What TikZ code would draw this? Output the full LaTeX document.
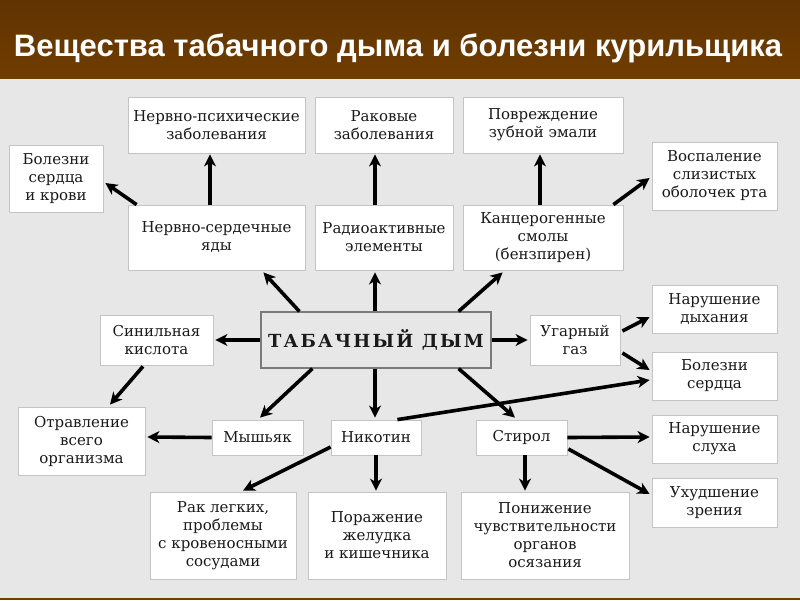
\documentclass[tikz,border=0pt]{standalone}
\usepackage{fontspec}
\setmainfont{DejaVu Serif}
\newfontfamily\titlefont{Liberation Sans}
\newfontfamily\smokefont[LetterSpace=12]{DejaVu Serif}
\usetikzlibrary{calc,arrows.meta}
\definecolor{bgcol}{HTML}{E7E7E7}
\definecolor{bartop}{HTML}{603300}
\definecolor{barbot}{HTML}{703D02}
\definecolor{boxline}{HTML}{C4C4C4}
\definecolor{txt}{HTML}{1A1A1A}
\definecolor{tabline}{HTML}{7A7A7A}
\begin{document}
\begin{tikzpicture}[x=1pt,y=-1pt,
  box/.style={draw=boxline,line width=0.8pt,fill=white,inner sep=0pt,align=center,text=txt,font=\fontsize{15}{18}\selectfont},
  arr/.style={line width=3.6pt,-{Stealth[length=12pt,width=12pt,inset=3.5pt]}}]
\useasboundingbox (0,0) rectangle (800,600);
\fill[bgcol] (0,0) rectangle (800,600);
\shade[top color=bartop,bottom color=barbot] (0,0) rectangle (800,78);
\fill[barbot] (0,597.5) rectangle (800,600);
\node[text=white,font=\titlefont\bfseries\fontsize{31}{36}\selectfont] (title) at (398,48) {Вещества табачного дыма и болезни курильщика};

% top row
\node[box,minimum width=177pt,minimum height=56pt] (np) at (216.5,125) {Нервно-психические\\заболевания};
\node[box,minimum width=138pt,minimum height=56pt] (rak) at (384,125) {Раковые\\заболевания};
\node[box,minimum width=160pt,minimum height=56pt] (zub) at (543,125) {Повреждение\\зубной эмали};
\node[box,minimum width=94pt,minimum height=67pt] (bsk) at (56,178.5) {Болезни\\сердца\\и крови};
\node[box,minimum width=125pt,minimum height=68pt] (vos) at (714.5,176) {Воспаление\\слизистых\\оболочек рта};
% second row
\node[box,minimum width=177pt,minimum height=65pt] (nsy) at (216.5,237.5) {Нервно-сердечные\\яды};
\node[box,minimum width=138pt,minimum height=65pt] (rad) at (384,237.5) {Радиоактивные\\элементы};
\node[box,minimum width=160pt,minimum height=65pt] (kan) at (543,237.5) {Канцерогенные\\смолы\\(бензпирен)};
% middle
\node[draw=tabline,line width=1.2pt,fill=bgcol,inner sep=0pt,minimum width=230pt,minimum height=56pt,text=txt,font=\smokefont\bfseries\fontsize{18}{20}\selectfont] (tab) at (376,340) {ТАБАЧНЫЙ ДЫМ};
\node[box,minimum width=113pt,minimum height=50pt] (sin) at (156.5,340) {Синильная\\кислота};
\node[box,minimum width=90pt,minimum height=50pt] (ug) at (575,340) {Угарный\\газ};
\node[box,minimum width=125pt,minimum height=48pt] (nd) at (714.5,309) {Нарушение\\дыхания};
\node[box,minimum width=125pt,minimum height=48pt] (bs) at (714.5,376) {Болезни\\сердца};
% lower row
\node[box,minimum width=127pt,minimum height=68pt] (otr) at (81.5,441) {Отравление\\всего\\организма};
\node[box,minimum width=91pt,minimum height=35pt] (mys) at (257.5,437.5) {Мышьяк};
\node[box,minimum width=90pt,minimum height=35pt] (nik) at (376,437.5) {Никотин};
\node[box,minimum width=91pt,minimum height=35pt] (sty) at (521.5,437.5) {Стирол};
\node[box,minimum width=125pt,minimum height=48pt] (ns) at (714.5,439) {Нарушение\\слуха};
\node[box,minimum width=125pt,minimum height=49pt] (uz) at (714.5,502.5) {Ухудшение\\зрения};
% bottom row
\node[box,minimum width=146pt,minimum height=87pt] (rl) at (223,535.5) {Рак легких,\\проблемы\\с кровеносными\\сосудами};
\node[box,minimum width=138pt,minimum height=87pt] (pzk) at (377,535.5) {Поражение\\желудка\\и кишечника};
\node[box,minimum width=168pt,minimum height=87pt] (pch) at (545,535.5) {Понижение\\чувствительности\\органов\\осязания};

% arrows
\draw[arr] ($(nsy.north)+(-6.5,0)$) -- ($(np.south)+(-6.5,1)$);
\draw[arr] ($(nsy.north west)+(9,0)$) -- ($(bsk.east)+(2,4.5)$);
\draw[arr] ($(rad.north)+(-9,0)$) -- ($(rak.south)+(-9,1)$);
\draw[arr] ($(kan.north)+(-3,0)$) -- ($(zub.south)+(-3,1)$);
\draw[arr] ($(kan.north east)+(-10,0)$) -- ($(vos.west)+(-2,2)$);
\draw[arr] ($(tab.north west)+(39,0)$) -- ($(nsy.south east)+(-42,2)$);
\draw[arr] ($(tab.north)+(-1,0)$) -- ($(rad.south)+(-9,2)$);
\draw[arr] ($(tab.north east)+(-33,0)$) -- ($(kan.south west)+(40,2)$);
\draw[arr] (tab.west) -- ($(sin.east)+(2,0)$);
\draw[arr] (tab.east) -- ($(ug.west)+(-2,0)$);
\draw[arr] ($(ug.east)+(2,-9)$) -- ($(nd.west)+(-2,8)$);
\draw[arr] ($(ug.east)+(2,13)$) -- ($(bs.west)+(-2,-6)$);
\draw[arr] ($(sin.south)+(-13.5,1)$) -- ($(otr.north)+(28.5,-2)$);
\draw[arr] (mys.west) -- ($(otr.east)+(2,-4)$);
\draw[arr] ($(tab.south west)+(52,0)$) -- ($(mys.north)+(2.5,-2)$);
\draw[arr] ($(tab.south)+(-1,0)$) -- ($(nik.north)+(-1,-2)$);
\draw[arr] ($(tab.south east)+(-33,0)$) -- ($(sty.north)+(-6.5,-2)$);
\draw[arr] ($(nik.north east)+(-24,0)$) -- ($(bs.west)+(-2,4)$);
\draw[arr] ($(nik.west)+(0,9.5)$) -- ($(rl.north)+(20,-1)$);
\draw[arr] (nik.south) -- ($(pzk.north)+(-1,-1)$);
\draw[arr] ($(sty.south)+(3.5,0)$) -- ($(pch.north)+(-20,-1)$);
\draw[arr] (sty.east) -- ($(ns.west)+(-2,-2)$);
\draw[arr] ($(sty.east)+(1,11.5)$) -- ($(uz.west)+(-2,-8.5)$);
\end{tikzpicture}
\end{document}
